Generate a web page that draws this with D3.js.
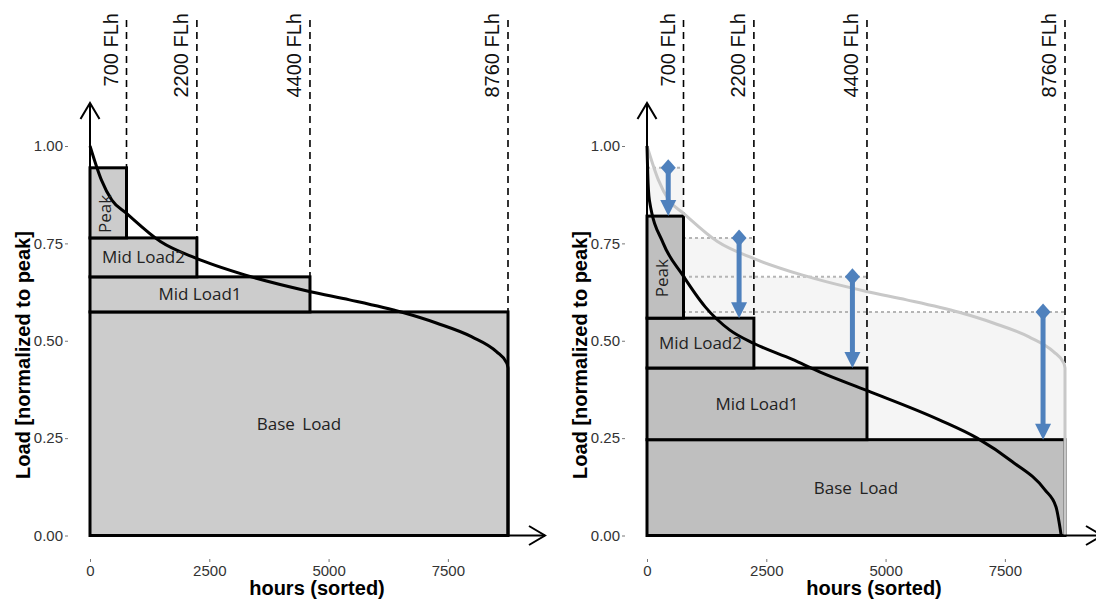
<!DOCTYPE html>
<html>
<head>
<meta charset="utf-8">
<script src="https://cdn.jsdelivr.net/npm/d3@7"></script>
<style>
  body { margin: 0; background: #fff; }
  text { font-family: "Liberation Sans", Arial, sans-serif; }
</style>
</head>
<body>
<div id="chart"></div>
<script>
// data
const blockNames = ["Base Load", "Mid Load1", "Mid Load2", "Peak"];
const blockHours = [8760, 4610, 2240, 765];
const topBefore = [0.574, 0.664, 0.764, 0.944];
const topAfter = [0.246, 0.430, 0.558, 0.820];
const flhLabels = ["8760 FLh", "4400 FLh", "2200 FLh", "700 FLh"];
const arrowHours = [8300, 4305, 1930, 445];

const yTicks = [0, 0.25, 0.5, 0.75, 1];
const xTicks = [0, 2500, 5000, 7500];

// original load duration curve
const ldcHours = [0, 238, 458, 766, 1484, 2216, 3243, 4620, 5440, 6540, 7272, 8005, 8518, 8738, 8760];
const ldcLoad = [1.0, 0.913, 0.861, 0.827, 0.754, 0.712, 0.669, 0.626, 0.605, 0.573, 0.545, 0.510, 0.472, 0.442, 0.43];

// residual load duration curve (right panel)
const resHours = [0, 15, 50, 341, 745, 1220, 1730, 2243, 3048, 3617, 4615, 6125, 6920, 7650, 8340, 8570, 8680];
const resLoad = [1.0, 0.93, 0.861, 0.750, 0.669, 0.587, 0.528, 0.493, 0.452, 0.420, 0.372, 0.297, 0.250, 0.190, 0.117, 0.074, 0];

const width = 1096, height = 600;

const svg = d3.select("#chart")
    .append("svg")
    .attr("width", width)
    .attr("height", height);

const x = d3.scaleLinear().domain([0, 8760]).range([0, 418]);
const y = d3.scaleLinear().domain([0, 1]).range([535.5, 146]);

const ldc = ldcHours.map((h, i) => ({h: h, v: ldcLoad[i]}));
const res = resHours.map((h, i) => ({h: h, v: resLoad[i]}));

const line = d3.line()
    .x(d => x(d.h))
    .y(d => y(d.v))
    .curve(d3.curveMonotoneX);

function stack(tops) {
    return blockNames.map((name, i) => ({
        name: name,
        h: blockHours[i],
        y0: i === 0 ? 0 : tops[i - 1],
        y1: tops[i]
    }));
}

// curve with its vertical drop at the end of the year
function ldcPath(pts) {
    const last = pts[pts.length - 1];
    return line(pts) + "L" + x(last.h) + "," + y(0);
}

function drawRects(g, blocks, fill) {
    g.selectAll(null)
        .data(blocks)
        .enter().append("rect")
        .attr("x", x(0))
        .attr("width", d => x(d.h) - x(0))
        .attr("y", d => y(d.y1))
        .attr("height", d => y(d.y0) - y(d.y1))
        .style("fill", fill)
        .style("stroke", "#000")
        .style("stroke-width", 3);
}

function drawDashed(g, blocks) {
    g.selectAll(null)
        .data(blocks)
        .enter().append("line")
        .attr("x1", d => x(d.h))
        .attr("x2", d => x(d.h))
        .attr("y1", 20)
        .attr("y2", d => y(d.y1))
        .style("stroke", "#000")
        .style("stroke-width", 1.6)
        .style("stroke-dasharray", "7,5");

    g.selectAll(null)
        .data(blocks)
        .enter().append("text")
        .attr("transform", (d, i) => "translate(" + (x(d.h) - 9) + ",13) rotate(-90)")
        .attr("text-anchor", "end")
        .style("font-size", "20px")
        .style("fill", "#111")
        .text((d, i) => flhLabels[i]);
}

function drawBlockLabels(g, blocks) {
    g.selectAll(null)
        .data(blocks)
        .enter().append("text")
        .attr("transform", d => {
            const cx = (x(0) + x(d.h)) / 2;
            const cy = (y(d.y0) + y(d.y1)) / 2;
            if (d.name === "Peak") return "translate(" + (cx + 2.5) + "," + (cy + 11) + ") rotate(-90)";
            return "translate(" + cx + "," + (cy + 6) + ")";
        })
        .attr("text-anchor", "middle")
        .style("font-family", "'Open Sans', 'Noto Sans', sans-serif")
        .style("font-size", "17px")
        .style("word-spacing", d => d.name === "Base Load" ? "3px" : "0px")
        .style("fill", "#222")
        .text(d => d.name);
}

function drawAxes(g) {
    const ya = g.append("g")
        .attr("transform", "translate(-22,0)")
        .call(d3.axisLeft(y).tickValues(yTicks).tickFormat(d3.format(".2f")).tickSize(3).tickPadding(2));
    ya.select(".domain").remove();

    const xa = g.append("g")
        .attr("transform", "translate(0,559)")
        .call(d3.axisBottom(x).tickValues(xTicks).tickFormat(d3.format("d")).tickSize(3).tickPadding(3));
    xa.select(".domain").remove();

    g.selectAll(".tick text").style("font-size", "15px").style("fill", "#333")
        .style("font-family", "'Liberation Sans', Arial, sans-serif");
    g.selectAll(".tick line").style("stroke", "#777");

    // arrowed axes
    const ax = g.append("g").style("fill", "none").style("stroke", "#000").style("stroke-width", 2);
    ax.append("line").attr("x1", x(0)).attr("x2", x(0)).attr("y1", y(0)).attr("y2", 103);
    ax.append("path").attr("d", "M" + (x(0) - 9.5) + ",119L" + x(0) + ",103L" + (x(0) + 9.5) + ",119");
    ax.append("line").attr("x1", x(0)).attr("x2", 455).attr("y1", y(0)).attr("y2", y(0));
    ax.append("path").attr("d", "M439," + (y(0) - 9.5) + "L455," + y(0) + "L439," + (y(0) + 9.5));

    // axis titles
    g.append("text")
        .attr("transform", "translate(-60,355) rotate(-90)")
        .attr("text-anchor", "middle")
        .style("font-size", "20px")
        .style("font-weight", "bold")
        .style("fill", "#000")
        .text("Load [normalized to peak]");

    g.append("text")
        .attr("x", 227)
        .attr("y", 595)
        .attr("text-anchor", "middle")
        .style("font-size", "20px")
        .style("font-weight", "bold")
        .style("fill", "#000")
        .text("hours (sorted)");
}

// ---------- left panel ----------
const left = svg.append("g").attr("transform", "translate(90,0)");
const leftBlocks = stack(topBefore);

drawRects(left, leftBlocks, "#cccccc");
drawDashed(left, leftBlocks);
left.append("path")
    .attr("d", ldcPath(ldc))
    .style("fill", "none")
    .style("stroke", "#000")
    .style("stroke-width", 3);
drawBlockLabels(left, leftBlocks);
drawAxes(left);

// ---------- right panel ----------
const right = svg.append("g").attr("transform", "translate(647,0)");
const oldBlocks = stack(topBefore);
const newBlocks = stack(topAfter);

// old stack as light background with dotted tops
right.selectAll(null)
    .data(oldBlocks)
    .enter().append("rect")
    .attr("x", x(0))
    .attr("width", d => x(d.h) - x(0))
    .attr("y", d => y(d.y1))
    .attr("height", d => y(d.y0) - y(d.y1))
    .style("fill", "#f5f5f5");

right.selectAll(null)
    .data(oldBlocks)
    .enter().append("line")
    .attr("x1", x(0))
    .attr("x2", d => x(d.h))
    .attr("y1", d => y(d.y1))
    .attr("y2", d => y(d.y1))
    .style("stroke", "#b5b5b5")
    .style("stroke-width", 2)
    .style("stroke-dasharray", "3,3");

drawRects(right, newBlocks, "#bfbfbf");
drawDashed(right, newBlocks);

right.append("path")
    .attr("d", ldcPath(ldc))
    .style("fill", "none")
    .style("stroke", "#c8c8c8")
    .style("stroke-width", 3);

right.append("path")
    .attr("d", line(res))
    .style("fill", "none")
    .style("stroke", "#000")
    .style("stroke-width", 3);

// blue arrows: from old block top down to new block top
const arrows = arrowHours.map((h, i) => ({h: h, from: topBefore[i], to: topAfter[i]}));
const blue = "#4f81bd";
const arr = right.selectAll(null).data(arrows).enter().append("g");
arr.append("line")
    .attr("x1", d => x(d.h))
    .attr("x2", d => x(d.h))
    .attr("y1", d => y(d.from))
    .attr("y2", d => y(d.to) - 14)
    .style("stroke", blue)
    .style("stroke-width", 5);
arr.append("path")
    .attr("d", d => {
        const cx = x(d.h), cy = y(d.from);
        return "M" + cx + "," + (cy - 8.5) + "L" + (cx + 7.5) + "," + cy + "L" + cx + "," + (cy + 8.5) + "L" + (cx - 7.5) + "," + cy + "Z";
    })
    .style("fill", blue);
arr.append("path")
    .attr("d", d => {
        const cx = x(d.h), ty = y(d.to);
        return "M" + (cx - 8) + "," + (ty - 16) + "L" + (cx + 8) + "," + (ty - 16) + "L" + cx + "," + ty + "Z";
    })
    .style("fill", blue);

drawBlockLabels(right, newBlocks);
drawAxes(right);
</script>
</body>
</html>
